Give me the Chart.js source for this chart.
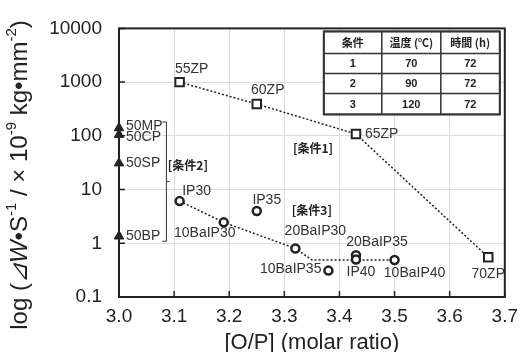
<!DOCTYPE html>
<html>
<head>
<meta charset="utf-8">
<script src="https://cdn.jsdelivr.net/npm/chart.js@4.4.0/dist/chart.umd.min.js"></script>
<style>
html, body { margin: 0; padding: 0; background: #fff; }
</style>
</head>
<body>
<canvas id="chart" width="526" height="352"></canvas>
<script>
// ZP series (condition 1)
var zpNames = ['55ZP', '60ZP', '65ZP', '70ZP'];
var zpX = [3.11, 3.25, 3.43, 3.67];
var zpY = [1000, 390, 108, 0.55];

// IP series (condition 3)
var ipNames = ['IP30', '10BaIP30', 'IP35', '20BaIP30', '10BaIP35', '20BaIP35', 'IP40', '10BaIP40'];
var ipX = [3.11, 3.19, 3.25, 3.32, 3.38, 3.43, 3.43, 3.50];
var ipY = [6.1, 2.45, 4.0, 0.8, 0.31, 0.6, 0.5, 0.49];

// trend line drawn through the IP group
var trendX = [3.11, 3.19, 3.32, 3.35, 3.50];
var trendY = [6.1, 2.45, 0.8, 0.49, 0.49];

// P series at O/P = 3.0 (condition 2)
var pNames = ['50MP', '50CP', '50SP', '50BP'];
var pX = [3.0, 3.0, 3.0, 3.0];
var pY = [140, 105, 31, 1.35];

var xTicks = [3.0, 3.1, 3.2, 3.3, 3.4, 3.5, 3.6, 3.7];
var yTicks = [0.1, 1, 10, 100, 1000, 10000];

// condition table
var tableHead = ['条件', '温度 (℃)', '時間 (h)'];
var tableCond = ['1', '2', '3'];
var tableTemp = ['70', '90', '120'];
var tableTime = ['72', '72', '72'];

// condition labels, in data units
var condText = ['[条件1]', '[条件2]', '[条件3]'];
var condX = [3.352, 3.125, 3.35];
var condY = [58, 28.5, 4.0];

var FONT = '"Liberation Sans", Arial, sans-serif';
var CJK = '"Noto Sans CJK JP", "Liberation Sans", sans-serif';
var INK = '#222';

// label placement for each point name: [dx, dy, align]
var labelPos = {
    '55ZP': [12, -13, 'center'], '60ZP': [11, -14, 'center'],
    '65ZP': [9, 0, 'left'], '70ZP': [0, 17, 'center'],
    'IP30': [17, -10, 'center'], '10BaIP30': [-19, 11, 'center'],
    'IP35': [10, -11, 'center'], '20BaIP30': [20, -17, 'center'],
    '10BaIP35': [-7, -1, 'right'], '20BaIP35': [21, -13, 'center'],
    'IP40': [5, 13, 'center'], '10BaIP40': [20, 13, 'center'],
    '50MP': [7, -2, 'left'], '50CP': [7, 2, 'left'],
    '50SP': [7, 0, 'left'], '50BP': [7, 0, 'left']
};

function pts(xs, ys) {
    return xs.map(function(x, i) { return {x: x, y: ys[i]}; });
}

var extras = {
    id: 'extras',
    beforeDatasetsDraw: function(chart) {
        var ctx = chart.ctx, a = chart.chartArea;
        var xs = chart.scales.x, ys = chart.scales.y;
        ctx.save();
        ctx.strokeStyle = INK;
        ctx.lineWidth = 2;
        ctx.strokeRect(a.left, a.top, a.right - a.left, a.bottom - a.top);
        // inner tick marks
        ctx.lineWidth = 1.5;
        ctx.beginPath();
        xTicks.forEach(function(v) {
            var px = xs.getPixelForValue(v);
            ctx.moveTo(px, a.bottom); ctx.lineTo(px, a.bottom - 6);
        });
        yTicks.forEach(function(v) {
            var py = ys.getPixelForValue(v);
            ctx.moveTo(a.left, py); ctx.lineTo(a.left + 6, py);
        });
        ctx.stroke();
        ctx.restore();
    },
    afterDraw: function(chart) {
        var ctx = chart.ctx, a = chart.chartArea;
        var xs = chart.scales.x, ys = chart.scales.y;
        ctx.save();

        // point labels
        ctx.fillStyle = '#333';
        ctx.font = '14px ' + FONT;
        ctx.textBaseline = 'middle';
        function label(names, xv, yv) {
            names.forEach(function(n, i) {
                var p = labelPos[n];
                ctx.textAlign = p[2];
                ctx.fillText(n, xs.getPixelForValue(xv[i]) + p[0], ys.getPixelForValue(yv[i]) + p[1]);
            });
        }
        label(zpNames, zpX, zpY);
        label(ipNames, ipX, ipY);
        label(pNames, pX, pY);

        // bracket for the P group
        var bx = xs.getPixelForValue(3.086);
        var bt = ys.getPixelForValue(pY[0]) - 6;
        var bb = ys.getPixelForValue(pY[pY.length - 1]) + 5;
        ctx.strokeStyle = '#333';
        ctx.lineWidth = 1;
        ctx.beginPath();
        ctx.moveTo(bx - 4, bt); ctx.lineTo(bx, bt); ctx.lineTo(bx, bb); ctx.lineTo(bx - 4, bb);
        ctx.moveTo(bx, (bt + bb) / 2); ctx.lineTo(bx + 3, (bt + bb) / 2);
        ctx.stroke();

        // condition labels
        ctx.fillStyle = '#222';
        ctx.font = 'bold 12px ' + CJK;
        ctx.textAlign = 'center';
        condText.forEach(function(t, i) {
            ctx.fillText(t, xs.getPixelForValue(condX[i]), ys.getPixelForValue(condY[i]));
        });

        // condition table
        var cx = [a.right - 181, a.right - 123, a.right - 64, a.right - 5];
        var ry = [a.top + 3, a.top + 25, a.top + 45, a.top + 65, a.top + 86];
        ctx.fillStyle = '#fff';
        ctx.fillRect(cx[0], ry[0], cx[3] - cx[0], ry[4] - ry[0]);
        ctx.strokeStyle = '#333';
        ctx.lineWidth = 1.5;
        ctx.beginPath();
        cx.forEach(function(x) { ctx.moveTo(x, ry[0]); ctx.lineTo(x, ry[4]); });
        ry.forEach(function(y) { ctx.moveTo(cx[0], y); ctx.lineTo(cx[3], y); });
        ctx.stroke();
        ctx.lineWidth = 2;
        ctx.strokeRect(cx[0], ry[0], cx[3] - cx[0], ry[4] - ry[0]);
        ctx.fillStyle = '#222';
        ctx.textAlign = 'center';
        ctx.font = 'bold 11px ' + CJK;
        tableHead.forEach(function(t, j) {
            ctx.fillText(t, (cx[j] + cx[j + 1]) / 2, (ry[0] + ry[1]) / 2);
        });
        ctx.font = 'bold 11px ' + FONT;
        [tableCond, tableTemp, tableTime].forEach(function(col, j) {
            col.forEach(function(t, i) {
                ctx.fillText(t, (cx[j] + cx[j + 1]) / 2, (ry[i + 1] + ry[i + 2]) / 2 + 1);
            });
        });

        // axis titles
        ctx.fillStyle = '#222';
        ctx.font = '22px ' + FONT;
        ctx.textAlign = 'center';
        ctx.fillText('[O/P] (molar ratio)', (a.left + a.right) / 2, 343);

        var parts = [
            {t: 'log ('}, {t: '⊿', it: true}, {t: 'W', it: true}, {t: '•S'}, {t: '-1', sup: true},
            {t: ' / × 10'}, {t: '-9', sup: true}, {t: ' kg•mm'}, {t: '-2', sup: true}, {t: ')'}
        ];
        function fontOf(p) {
            return (p.it ? 'italic ' : '') + (p.sup ? '15px ' : '24px ') + FONT;
        }
        var total = 0;
        parts.forEach(function(p) { ctx.font = fontOf(p); p.w = ctx.measureText(p.t).width; total += p.w; });
        ctx.translate(20, 175);
        ctx.rotate(-Math.PI / 2);
        ctx.textAlign = 'left';
        var px = -total / 2;
        parts.forEach(function(p) {
            ctx.font = fontOf(p);
            ctx.fillText(p.t, px, p.sup ? -8 : 0);
            px += p.w;
        });
        ctx.restore();
    }
};

new Chart(document.getElementById('chart'), {
    type: 'scatter',
    data: {
        datasets: [{
            data: pts(pX, pY),
            pointStyle: 'triangle',
            pointRadius: 5.5,
            backgroundColor: INK,
            borderColor: INK,
            borderWidth: 1,
            clip: false,
            order: 0
        }, {
            data: pts(zpX, zpY),
            showLine: true,
            borderColor: INK,
            borderWidth: 1.5,
            borderDash: [2, 2],
            pointStyle: 'rect',
            pointRadius: 6,
            pointBorderWidth: 2,
            pointBackgroundColor: '#fff',
            pointBorderColor: INK,
            order: 0
        }, {
            data: pts(ipX, ipY),
            pointStyle: 'circle',
            pointRadius: 4,
            pointBorderWidth: 2.5,
            pointBackgroundColor: '#fff',
            pointBorderColor: INK,
            order: 1
        }, {
            data: pts(trendX, trendY),
            showLine: true,
            borderColor: INK,
            borderWidth: 1.5,
            borderDash: [2, 2],
            pointRadius: 0,
            order: 2
        }]
    },
    options: {
        responsive: false,
        devicePixelRatio: 1,
        animation: false,
        layout: { padding: { left: 0, right: 15, top: 20, bottom: 0 } },
        plugins: { legend: { display: false }, tooltip: { enabled: false } },
        scales: {
            x: {
                type: 'linear',
                min: 3.0,
                max: 3.7,
                afterBuildTicks: function(s) { s.ticks = xTicks.map(function(v) { return {value: v}; }); },
                afterFit: function(s) { s.height = 55; },
                grid: { color: '#dcdcdc', lineWidth: 1, drawTicks: false },
                border: { display: false },
                ticks: {
                    padding: 8,
                    color: '#222',
                    font: { family: FONT, size: 19 },
                    callback: function(v) { return v.toFixed(1); }
                }
            },
            y: {
                type: 'logarithmic',
                min: 0.1,
                max: 10000,
                afterBuildTicks: function(s) { s.ticks = yTicks.map(function(v) { return {value: v}; }); },
                afterFit: function(s) { s.width = 119; },
                grid: { color: '#dcdcdc', lineWidth: 1, drawTicks: false },
                border: { display: false },
                ticks: {
                    padding: 17,
                    color: '#222',
                    font: { family: FONT, size: 19 },
                    callback: function(v) { return String(v); }
                }
            }
        }
    },
    plugins: [extras]
});
</script>
</body>
</html>
